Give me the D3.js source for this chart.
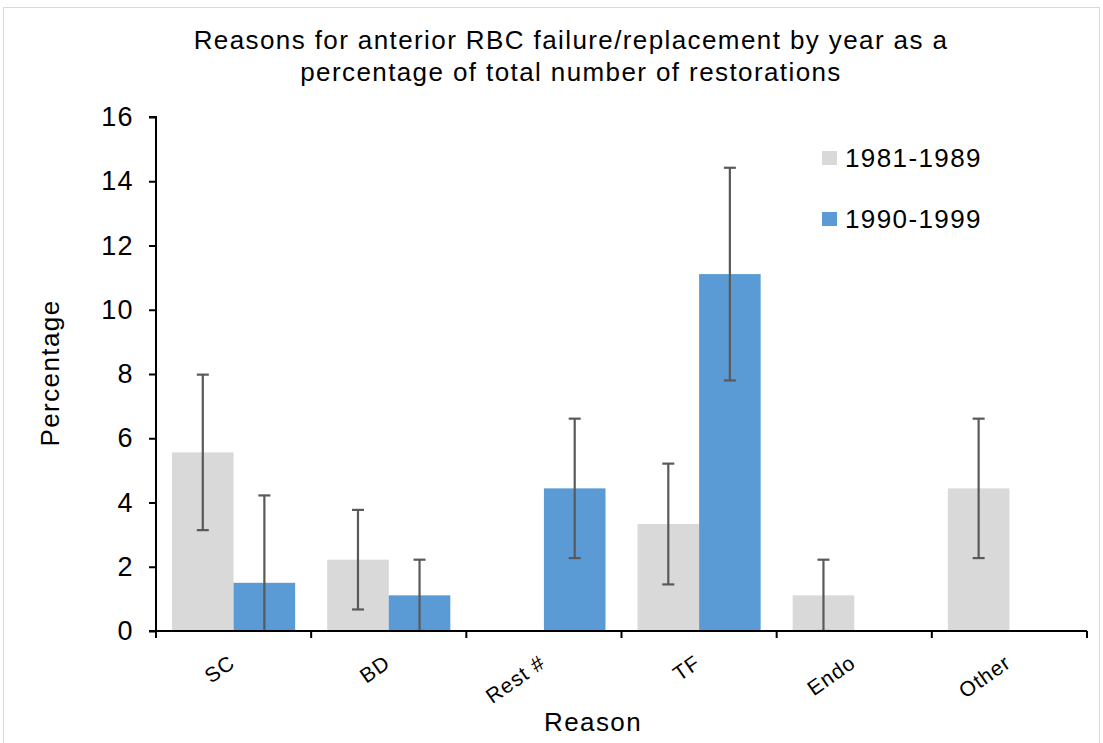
<!DOCTYPE html>
<html>
<head>
<meta charset="utf-8">
<script src="https://cdn.jsdelivr.net/npm/d3@7/dist/d3.min.js"></script>
<style>
  html, body { margin: 0; padding: 0; background: #fff; }
  svg { display: block; font-family: "Liberation Sans", Arial, sans-serif; }
</style>
</head>
<body>
<svg id="chart" width="1103" height="743"></svg>
<script>
// Reasons for failure / replacement of anterior RBCs
const categories = ["SC", "BD", "Rest #", "TF", "Endo", "Other"];
const seriesNames = ["1981-1989", "1990-1999"];
const seriesColors = ["#d9d9d9", "#5b9bd5"];

// Percentage of total restorations per period
const values1981 = [5.56, 2.22, 0, 3.33, 1.11, 4.44];
const values1990 = [1.50, 1.11, 4.44, 11.11, 0, 0];

// Error bar half-lengths (null where no bar is drawn)
const errors1981 = [2.42, 1.55, null, 1.88, 1.11, 2.17];
const errors1990 = [2.72, 1.11, 2.17, 3.31, null, null];

const yTicks = [0, 2, 4, 6, 8, 10, 12, 14, 16];

const FONT = 26;
const SPACING = 1.4;

const svg = d3.select("#chart");

// outer frame
svg.append("rect")
  .attr("x", 3.5).attr("y", 7.5)
  .attr("width", 1096).attr("height", 745)
  .attr("fill", "none").attr("stroke", "#d9d9d9").attr("stroke-width", 1);

const plot = { left: 156, right: 1087, top: 117, bottom: 631 };

const x0 = d3.scaleBand().domain(categories).range([plot.left, plot.right]).padding(0);
const x1 = d3.scaleBand().domain(seriesNames).range([0, x0.bandwidth()])
  .paddingInner(0).paddingOuter(0.26);
const y = d3.scaleLinear().domain([0, 16]).range([plot.bottom, plot.top]);

// clip region for bars and error bars
svg.append("clipPath").attr("id", "plotClip")
  .append("rect")
  .attr("x", plot.left).attr("y", plot.top - 5)
  .attr("width", plot.right - plot.left).attr("height", plot.bottom - plot.top + 5);

const rows = categories.map((c, i) => ({
  cat: c,
  items: [
    { s: seriesNames[0], v: values1981[i], e: errors1981[i], color: seriesColors[0] },
    { s: seriesNames[1], v: values1990[i], e: errors1990[i], color: seriesColors[1] }
  ]
}));

const g = svg.append("g").attr("clip-path", "url(#plotClip)");

const groups = g.selectAll("g.cat").data(rows).join("g")
  .attr("class", "cat")
  .attr("transform", d => `translate(${x0(d.cat)},0)`);

groups.selectAll("rect").data(d => d.items.filter(it => it.v > 0)).join("rect")
  .attr("x", d => x1(d.s))
  .attr("width", x1.bandwidth())
  .attr("y", d => y(d.v))
  .attr("height", d => y(0) - y(d.v))
  .attr("fill", d => d.color);

// error bars
const errG = groups.selectAll("g.err").data(d => d.items.filter(it => it.e != null)).join("g")
  .attr("class", "err")
  .attr("stroke", "#595959").attr("stroke-width", 2.2);

const cx = d => x1(d.s) + x1.bandwidth() / 2;
const capW = 6;
errG.append("line")
  .attr("x1", cx).attr("x2", cx)
  .attr("y1", d => y(d.v + d.e)).attr("y2", d => y(d.v - d.e));
errG.append("line")
  .attr("x1", d => cx(d) - capW).attr("x2", d => cx(d) + capW)
  .attr("y1", d => y(d.v + d.e)).attr("y2", d => y(d.v + d.e));
errG.append("line")
  .attr("x1", d => cx(d) - capW).attr("x2", d => cx(d) + capW)
  .attr("y1", d => y(d.v - d.e)).attr("y2", d => y(d.v - d.e));

// y axis
const yAxis = svg.append("g")
  .attr("transform", `translate(${plot.left},0)`)
  .call(d3.axisLeft(y).tickValues(yTicks).tickSize(7).tickPadding(15).tickFormat(d3.format("d")));
yAxis.select(".domain").attr("stroke", "#000").attr("stroke-width", 2)
  .attr("d", `M-7,${plot.top}H0V${plot.bottom}`);
yAxis.selectAll(".tick line").attr("stroke", "#000").attr("stroke-width", 2);
yAxis.selectAll(".tick text").attr("font-size", 27).attr("fill", "#000")
  .attr("letter-spacing", SPACING)
  .attr("font-family", "Liberation Sans, Arial, sans-serif");

// x axis: ticks sit on the category boundaries
const xAxisG = svg.append("g").attr("transform", `translate(0,${plot.bottom})`);
xAxisG.append("line")
  .attr("x1", plot.left - 7).attr("x2", plot.right)
  .attr("stroke", "#000").attr("stroke-width", 2);
const boundaries = categories.map(c => x0(c)).concat([plot.right]);
xAxisG.selectAll("line.tick").data(boundaries).join("line")
  .attr("class", "tick")
  .attr("x1", d => d).attr("x2", d => d)
  .attr("y1", 0).attr("y2", 7)
  .attr("stroke", "#000").attr("stroke-width", 2);
xAxisG.selectAll("text").data(categories).join("text")
  .attr("transform", d => `translate(${x0(d) + x0.bandwidth() / 2 + 3},35) rotate(-35)`)
  .attr("text-anchor", "end")
  .attr("font-size", 21)
  .attr("letter-spacing", 1)
  .attr("fill", "#000")
  .text(d => d);

// titles
const title = svg.append("text")
  .attr("text-anchor", "middle")
  .attr("font-size", FONT).attr("letter-spacing", SPACING).attr("fill", "#000");
title.append("tspan").attr("x", 571).attr("y", 49).text("Reasons for anterior RBC failure/replacement by year as a");
title.append("tspan").attr("x", 571).attr("y", 81).text("percentage of total number of restorations");

svg.append("text")
  .attr("x", 593).attr("y", 731)
  .attr("text-anchor", "middle").attr("font-size", FONT)
  .attr("letter-spacing", SPACING).attr("fill", "#000")
  .text("Reason");

svg.append("text")
  .attr("transform", `translate(59,373) rotate(-90)`)
  .attr("text-anchor", "middle").attr("font-size", FONT)
  .attr("letter-spacing", SPACING).attr("fill", "#000")
  .text("Percentage");

// legend
const legend = svg.append("g");
const legendItems = legend.selectAll("g").data(seriesNames).join("g")
  .attr("transform", (d, i) => `translate(822,${151 + i * 61})`);
legendItems.append("rect")
  .attr("width", 15).attr("height", 14)
  .attr("fill", (d, i) => seriesColors[i]);
legendItems.append("text")
  .attr("x", 23).attr("y", 16)
  .attr("font-size", FONT).attr("letter-spacing", SPACING).attr("fill", "#000")
  .text(d => d);
</script>
</body>
</html>
